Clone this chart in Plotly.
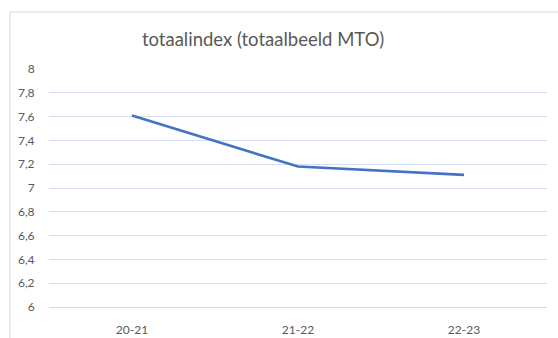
import plotly.graph_objects as go

# Survey years and the overall index score per year
seasons = ["20-21", "21-22", "22-23"]
index_scores = [7.61, 7.18, 7.11]

# Y-axis ticks (Dutch decimal comma)
y_tick_values = [6, 6.2, 6.4, 6.6, 6.8, 7, 7.2, 7.4, 7.6, 7.8, 8]
y_tick_labels = ["6", "6,2", "6,4", "6,6", "6,8", "7", "7,2", "7,4", "7,6", "7,8", "8"]

W, H = 558, 338
ML, MR, MT, MB = 49, 11, 69, 31
pw, ph = W - ML - MR, H - MT - MB


def px_x(px):
    return (px - ML) / pw


def px_y(py):
    return (H - MB - py) / ph


fig = go.Figure()
fig.add_trace(go.Scatter(
    x=seasons,
    y=index_scores,
    mode="lines",
    line=dict(color="#4472C4", width=2.6),
    hoverinfo="x+y",
))

tick_font = dict(family="Lato, 'Open Sans', sans-serif", size=12, color="#595959")

fig.update_layout(
    width=W,
    height=H,
    margin=dict(l=ML, r=MR, t=MT, b=MB),
    paper_bgcolor="white",
    plot_bgcolor="white",
    showlegend=False,
    title=dict(
        text="totaalindex (totaalbeeld MTO)",
        xref="container", x=263 / W, xanchor="center",
        yref="container", y=1 - 40 / H, yanchor="middle",
        font=dict(family="Lato, 'Open Sans', sans-serif", size=18.5, color="#595959"),
    ),
    xaxis=dict(
        type="category",
        range=[-0.5, 2.5],
        automargin=False,
        showgrid=False,
        showline=True,
        linecolor="#D9D9D9",
        linewidth=1,
        ticks="outside",
        ticklen=12,
        tickcolor="rgba(0,0,0,0)",
        tickfont=tick_font,
        zeroline=False,
    ),
    yaxis=dict(
        range=[6, 8],
        automargin=False,
        tickvals=y_tick_values,
        ticktext=y_tick_labels,
        showgrid=True,
        gridcolor="#D6DFF0",
        gridwidth=1,
        showline=False,
        zeroline=False,
        ticks="outside",
        ticklen=11,
        tickcolor="rgba(0,0,0,0)",
        tickfont=tick_font,
    ),
    shapes=[
        # chart frame: top and left edges
        dict(type="line", xref="paper", yref="paper",
             x0=px_x(10), x1=px_x(W), y0=px_y(12), y1=px_y(12),
             line=dict(color="#D9D9D9", width=1)),
        dict(type="line", xref="paper", yref="paper",
             x0=px_x(10), x1=px_x(10), y0=px_y(12), y1=px_y(H),
             line=dict(color="#D9D9D9", width=1)),
    ],
)

fig.write_html("out.html")
